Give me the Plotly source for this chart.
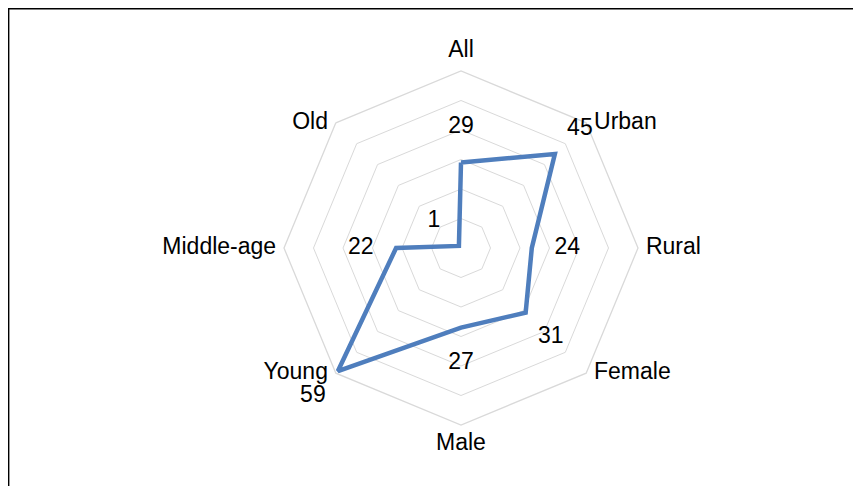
import plotly.graph_objects as go

categories = ["All", "Urban", "Rural", "Female", "Male", "Young", "Middle-age", "Old"]
values = [29, 45, 24, 31, 27, 59, 22, 1]
label_offset = 12
cat_text_pos = ["top center", "middle right", "middle right", "middle right",
                "bottom center", "middle left", "middle left", "middle left"]

W, H = 861, 486
# page body offsets the figure by 8px, so positions are relative to that
cx, cy, R = 453, 240, 177
rmax = 60
rmax2 = 80
R2 = R * rmax2 / rmax
FONT = "Liberation Sans, Arial, sans-serif"

fig = go.Figure()
fig.add_trace(go.Scatterpolar(
    r=values + values[:1],
    theta=categories + categories[:1],
    mode="lines",
    line=dict(color="#4F7EBD", width=4.5),
    hoverinfo="skip",
    showlegend=False,
    subplot="polar",
))
fig.add_trace(go.Scatterpolar(
    r=[v + label_offset for v in values],
    theta=categories,
    mode="text",
    text=[str(v) for v in values],
    textfont=dict(family=FONT, size=23, color="#000000"),
    cliponaxis=False,
    hoverinfo="skip",
    showlegend=False,
    subplot="polar2",
))
# category labels at the outer ring
fig.add_trace(go.Scatterpolar(
    r=[rmax] * len(categories),
    theta=categories,
    mode="markers+text",
    marker=dict(size=11, opacity=0),
    text=categories,
    textposition=cat_text_pos,
    textfont=dict(family=FONT, size=23, color="#000000"),
    cliponaxis=False,
    hoverinfo="skip",
    showlegend=False,
    subplot="polar2",
))


def dom(rad):
    return dict(x=[(cx - rad) / W, (cx + rad) / W], y=[(H - cy - rad) / H, (H - cy + rad) / H])


fig.update_layout(
    width=W, height=H,
    margin=dict(l=0, r=0, t=0, b=0),
    paper_bgcolor="white",
    font=dict(family=FONT, size=23, color="#000000"),
    polar=dict(
        domain=dom(R),
        bgcolor="white",
        gridshape="linear",
        radialaxis=dict(range=[0, rmax], dtick=10, showticklabels=False, showline=False,
                        ticks="", gridcolor="#D9D9D9", gridwidth=1.3),
        angularaxis=dict(rotation=90, direction="clockwise", showgrid=False,
                         categoryorder="array", categoryarray=categories,
                         linecolor="#D9D9D9", linewidth=1.3, ticks="",
                         showticklabels=False),
    ),
    polar2=dict(
        domain=dom(R2),
        bgcolor="rgba(0,0,0,0)",
        gridshape="linear",
        radialaxis=dict(range=[0, rmax2], showticklabels=False, showline=False,
                        showgrid=False, ticks=""),
        angularaxis=dict(rotation=90, direction="clockwise", showgrid=False,
                         categoryorder="array", categoryarray=categories,
                         showline=False, showticklabels=False, ticks=""),
    ),
    shapes=[dict(type="rect", xref="paper", yref="paper",
                 x0=0.7 / W, x1=1.2, y0=-0.2, y1=1 - 0.7 / H,
                 line=dict(color="#000000", width=1.4), fillcolor="rgba(0,0,0,0)")],
)

fig.write_html("out.html")
